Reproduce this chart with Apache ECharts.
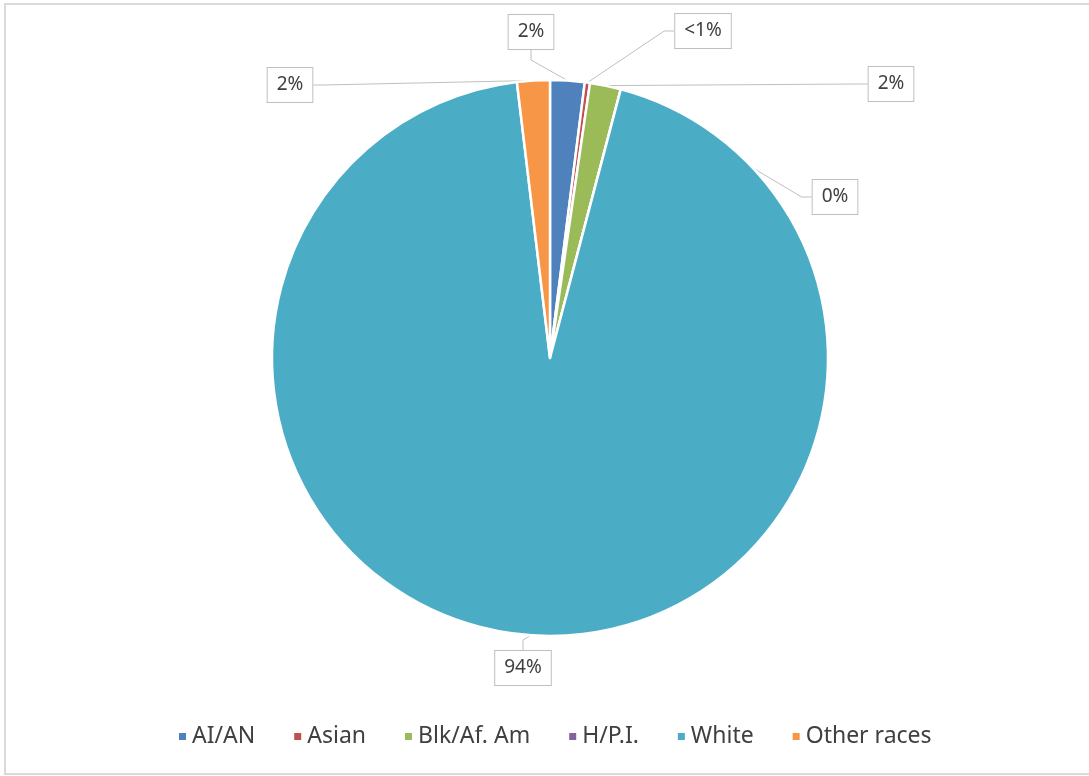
<!DOCTYPE html>
<html>
<head>
<meta charset="utf-8">
<script src="https://cdn.jsdelivr.net/npm/echarts@6/dist/echarts.min.js"></script>
<style>
html,body{margin:0;padding:0;background:#fff;}
#chart{width:1089px;height:776px;}
</style>
</head>
<body>
<div id="chart"></div>
<script>
// Data
const categories = ['AI/AN', 'Asian', 'Blk/Af. Am', 'H/P.I.', 'White', 'Other races'];
const values = [2.0, 0.3, 1.8, 0, 94.0, 1.9];
const labelTexts = ['2%', '<1%', '2%', '0%', '94%', '2%'];
const colors = ['#4f81bd', '#c0504d', '#9bbb59', '#8064a2', '#4bacc6', '#f79646'];

// label box centres (layout, not data)
const labelPos = [[531, 32], [703, 31], [891, 84], [835, 197], [523, 668], [290, 85]];

const FONT = "'Noto Sans', 'Open Sans', sans-serif";

const chart = echarts.init(document.getElementById('chart'), null, {renderer: 'canvas'});
chart.setOption({
  animation: false,
  backgroundColor: '#ffffff',
  color: colors,
  graphic: [{
    type: 'rect',
    shape: {x: 5, y: 4, width: 1100, height: 770},
    style: {fill: 'none', stroke: '#d9d9d9', lineWidth: 2},
    silent: true
  }],
  legend: {
    data: categories,
    left: 172,
    top: 720,
    icon: 'rect',
    itemWidth: 9,
    itemHeight: 9,
    itemGap: 37,
    textStyle: {fontSize: 23, color: '#404040', fontFamily: FONT}
  },
  series: [{
    type: 'pie',
    center: [550, 358],
    radius: 278,
    startAngle: 90,
    clockwise: true,
    avoidLabelOverlap: false,
    itemStyle: {borderColor: '#ffffff', borderWidth: 2.5},
    label: {
      show: true,
      position: 'outside',
      formatter: p => labelTexts[p.dataIndex],
      fontSize: 19,
      color: '#404040',
      fontFamily: FONT,
      backgroundColor: '#ffffff',
      borderColor: '#bfbfbf',
      borderWidth: 1,
      padding: [8, 9, 7, 9]
    },
    labelLine: {show: true, length: 10, length2: 10, lineStyle: {color: '#bfbfbf', width: 1}},
    labelLayout: p => ({
      x: labelPos[p.dataIndex][0],
      y: labelPos[p.dataIndex][1],
      align: 'center',
      verticalAlign: 'middle'
    }),
    emphasis: {disabled: true},
    data: categories.map((c, i) => ({name: c, value: values[i]}))
  }]
});
</script>
</body>
</html>
